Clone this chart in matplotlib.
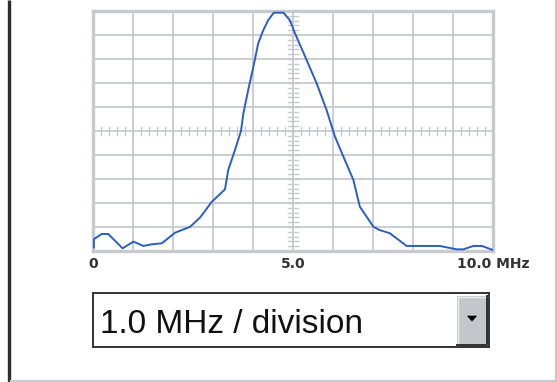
import matplotlib
matplotlib.use('Agg')
import matplotlib.pyplot as plt
from matplotlib.patches import Rectangle, Polygon
import numpy as np

# ---- data ----
freq_mhz = [0.02, 0.02, 0.22, 0.38, 0.74, 1.01, 1.26, 1.47, 1.72, 2.05, 2.43, 2.68,
            2.97, 3.30, 3.38, 3.55, 3.70, 3.76, 3.88, 4.01, 4.13, 4.26, 4.38, 4.52,
            4.76, 4.92, 5.05, 5.34, 5.59, 5.84, 6.05, 6.26, 6.51, 6.67, 7.01, 7.17,
            7.42, 7.84, 8.67, 9.09, 9.26, 9.51, 9.72, 10.0]
amplitude = [0.15, 0.49, 0.71, 0.71, 0.11, 0.39, 0.21, 0.28, 0.32, 0.76, 1.01, 1.40,
             2.05, 2.57, 3.37, 4.21, 5.00, 5.74, 6.71, 7.68, 8.65, 9.21, 9.62, 9.93,
             9.93, 9.62, 9.07, 7.96, 6.99, 5.87, 4.76, 3.93, 2.96, 1.85, 1.01, 0.87,
             0.74, 0.21, 0.21, 0.07, 0.07, 0.21, 0.21, 0.04]
tick_positions = [0, 5, 10]
tick_labels = ['0', '5.0', '10.0 MHz']
selector_label = '1.0 MHz / division'

W, H = 557, 382
grid_c = '#c6cacf'
line_c = '#2b5ec2'

fig = plt.figure(figsize=(W / 100, H / 100), dpi=100)
fig.patch.set_facecolor('white')

# background / widget layer in pixel coordinates
bg = fig.add_axes([0, 0, 1, 1])
bg.set_xlim(0, W)
bg.set_ylim(H, 0)
bg.axis('off')
bg.plot([9, 9], [0, H], color='#2e2e2e', lw=2.4, solid_capstyle='butt')
bg.plot([555.5, 555.5], [0, 381], color='#c8cacc', lw=1.6)
bg.plot([11, 556], [380.5, 380.5], color='#c8cacc', lw=1.6)

# dropdown box
bg.add_patch(Rectangle((93, 293), 396, 54, facecolor='white', edgecolor='#222222', lw=1.3))
bg.add_patch(Rectangle((457, 296), 30, 49, facecolor='#c3c7cb', edgecolor='none'))
bg.plot([457.5, 457.5, 487], [345, 296.5, 296.5], color='#eeeeee', lw=1)
bg.plot([457, 487, 487], [345, 345, 296], color='#303030', lw=1.4)
bg.add_patch(Polygon([[467.5, 316], [476.5, 316], [472, 321]], closed=True,
                     facecolor='black', edgecolor='black', lw=0.5))
bg.text(100, 333, selector_label, fontsize=24, family='Liberation Sans',
        color='#111111', va='baseline', ha='left')

# scope display
ax = fig.add_axes([93 / W, (H - 251) / H, 400 / W, 240 / H])
ax.set_facecolor('white')
ax.set_xlim(0, 10)
ax.set_ylim(0, 10)
for v in range(1, 10):
    ax.axvline(v, color=grid_c, lw=1.3, zorder=1)
    ax.axhline(v, color=grid_c, lw=1.3, zorder=1)
for t in np.arange(0.2, 10, 0.2):
    ax.plot([t, t], [5 - 0.17, 5 + 0.17], color=grid_c, lw=1.0, zorder=1)
    ax.plot([5 - 0.12, 5 + 0.12], [t, t], color=grid_c, lw=1.0, zorder=1)
for s in ax.spines.values():
    s.set_color(grid_c)
    s.set_linewidth(2.4)

ax.plot(freq_mhz, amplitude, color=line_c, lw=1.4, zorder=3, solid_joinstyle='round')

ax.set_xticks(tick_positions, tick_labels)
ax.set_yticks([])
ax.tick_params(axis='x', length=0, pad=4.5, labelsize=10, labelcolor='#333333')
for lab in ax.get_xticklabels():
    lab.set_fontweight('bold')
    lab.set_family('DejaVu Sans')

fig.savefig('out.png', dpi=100)
